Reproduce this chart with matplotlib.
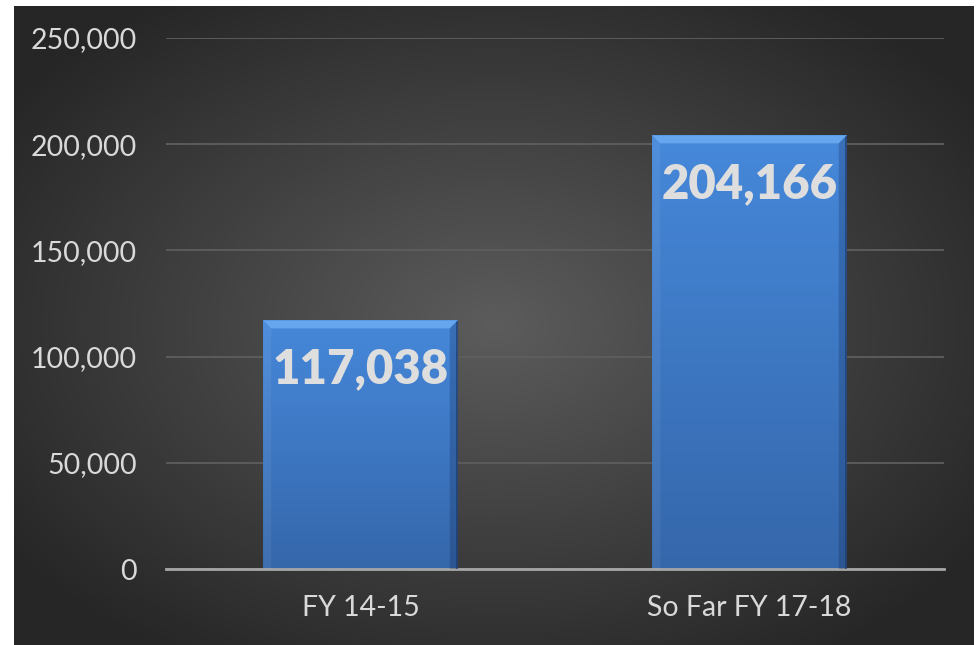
import numpy as np
import matplotlib
matplotlib.use("Agg")
import matplotlib.pyplot as plt
from matplotlib.patches import Polygon
from matplotlib.transforms import IdentityTransform
from matplotlib.ticker import FuncFormatter

categories = ["FY 14-15", "So Far FY 17-18"]
values = [117038, 204166]
yticks = [0, 50000, 100000, 150000, 200000, 250000]

W, H = 977, 645
fig = plt.figure(figsize=(W / 100, H / 100), dpi=100)
fig.patch.set_facecolor("white")

# background panel with radial gradient
bg = fig.add_axes([14 / W, 0, (974 - 14) / W, (645 - 6) / H])
bg.set_axis_off()
nx, ny = 480, 320
xx, yy = np.meshgrid(np.linspace(0, 1, nx), np.linspace(0, 1, ny))
cx, cy = 0.50, 0.50
r = np.sqrt(((xx - cx) / 0.62) ** 2 + ((yy - cy) / 0.62) ** 2)
r = np.clip(r, 0, 1)
c_center = np.array([0x5c, 0x5c, 0x5c]) / 255
c_edge = np.array([0x26, 0x26, 0x26]) / 255
img = c_center[None, None, :] * (1 - r[..., None]) + c_edge[None, None, :] * r[..., None]
bg.imshow(img, extent=[0, 1, 0, 1], aspect="auto", origin="lower")
bg.set_xlim(0, 1)
bg.set_ylim(0, 1)

ax = fig.add_axes([166 / W, (645 - 569) / H, (944 - 166) / W, (569 - 38) / H])
ax.patch.set_alpha(0)
x = np.arange(len(categories))
bars = ax.bar(x, values, width=0.5, color="#4482d2", zorder=3)
ax.set_xlim(-0.5, len(categories) - 0.5)
ax.set_ylim(0, 250000)
ax.set_yticks(yticks)
ax.yaxis.set_major_formatter(FuncFormatter(lambda v, p: f"{int(v):,}"))
ax.set_xticks(x)
ax.set_xticklabels(categories)

for s in ["top", "right", "left"]:
    ax.spines[s].set_visible(False)
ax.spines["bottom"].set_color("#a6a6a6")
ax.spines["bottom"].set_linewidth(2.0)
ax.spines["bottom"].set_zorder(5)
ax.grid(axis="y", color="#5e5e5e", linewidth=1.3, zorder=0)
ax.tick_params(axis="both", length=0, colors="#d9d9d9")
ax.tick_params(axis="y", pad=21)
ax.tick_params(axis="x", pad=19)
for lab in ax.get_yticklabels() + ax.get_xticklabels():
    lab.set_fontfamily("Lato")
    lab.set_fontsize(20.5)
    lab.set_color("#d9d9d9")

# gradient fill and bevels per bar
fig.canvas.draw()
for b in bars:
    x0, y0 = b.get_x(), b.get_y()
    x1, y1 = x0 + b.get_width(), y0 + b.get_height()
    grad = np.linspace(0, 1, 100)[:, None]
    top_c = np.array([0x46, 0x88, 0xda]) / 255
    bot_c = np.array([0x35, 0x67, 0xab]) / 255
    gimg = top_c[None, None, :] * grad[..., None] + bot_c[None, None, :] * (1 - grad[..., None])
    gimg = np.repeat(gimg, 2, axis=1)
    im = ax.imshow(gimg, extent=[x0, x1, y0, y1], aspect="auto", origin="lower", zorder=3.5)
    im.set_clip_path(b)
    (px0, py0) = ax.transData.transform((x0, y0))
    (px1, py1) = ax.transData.transform((x1, y1))
    bv = 8
    top = Polygon([(px0, py1), (px1, py1), (px1 - bv, py1 - bv), (px0 + bv, py1 - bv)],
                  closed=True, transform=IdentityTransform(), facecolor="#66a6ee", edgecolor="none", zorder=4)
    left = Polygon([(px0, py1), (px0 + bv, py1 - bv), (px0 + bv, py0), (px0, py0)],
                   closed=True, transform=IdentityTransform(), facecolor="white", alpha=0.06,
                   edgecolor="none", zorder=4)
    right = Polygon([(px1, py1), (px1 - bv, py1 - bv), (px1 - bv, py0), (px1, py0)],
                    closed=True, transform=IdentityTransform(), facecolor="#0a1a40", alpha=0.22,
                    edgecolor="none", zorder=4)
    edge = Polygon([(px1 - 1.5, py1 - 1.5), (px1, py1), (px1, py0), (px1 - 1.5, py0)],
                   closed=True, transform=IdentityTransform(), facecolor="#1d3560", alpha=0.8,
                   edgecolor="none", zorder=4.1)
    for p in (top, left, right, edge):
        fig.add_artist(p)

for xi, v in zip(x, values):
    ax.annotate(f"{v:,}", xy=(xi, v), xytext=(0, -45), textcoords="offset points",
                ha="center", va="baseline", fontfamily="Lato", fontweight="heavy",
                fontsize=34, color="#dedede", zorder=6)

fig.savefig("out.png", dpi=100, facecolor=fig.get_facecolor())
